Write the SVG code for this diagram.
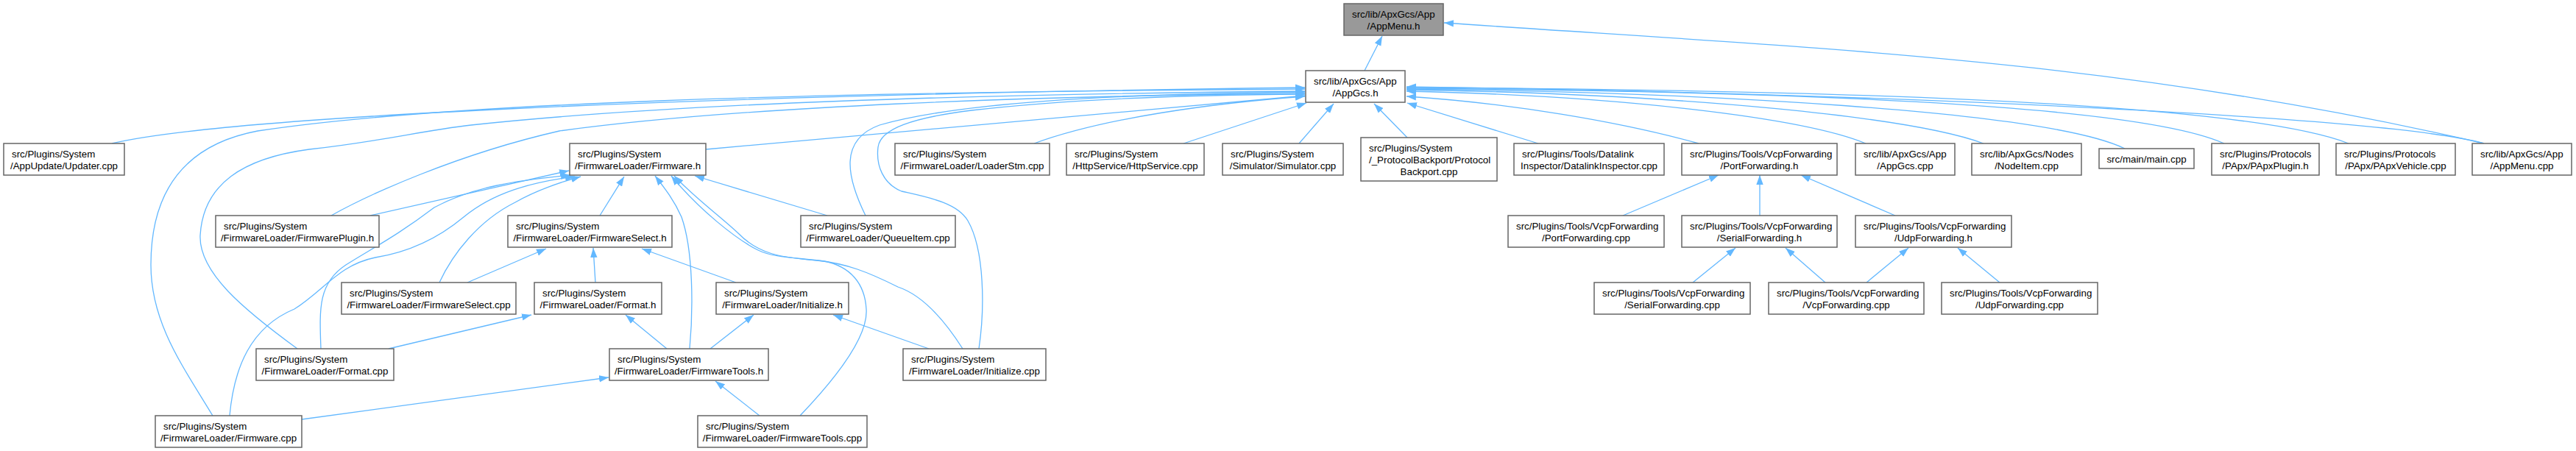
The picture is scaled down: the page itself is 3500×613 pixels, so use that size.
<svg xmlns="http://www.w3.org/2000/svg" width="3500" height="613" viewBox="0 0 3500 613">
<style>
.node rect{fill:#ffffff;stroke:#666666;stroke-width:1.5}
.root rect{fill:#999999}
.node text{font-family:"Liberation Sans",Arial,Helvetica,sans-serif;font-size:13.33px;fill:#000000}
.m{text-anchor:middle}
.edges path{fill:none;stroke:#63b8ff;stroke-width:1.3;marker-end:url(#arr)}
</style>
<defs>
<marker id="arr" markerUnits="userSpaceOnUse" viewBox="0 0 13 10" refX="13" refY="5" markerWidth="13" markerHeight="10" orient="auto">
<path d="M0,0.3 L13,5 L0,9.7 z" fill="#63b8ff"/>
</marker>
</defs>
<rect width="3500" height="613" fill="#ffffff"/>
<g class="edges">
<path d="M1854,96 L1878,49"/>
<path d="M3375,195 C2875,79 2464,66 1962,31"/>
<path d="M152,195 C300,160 900,130 1773,119"/>
<path d="M289,565 C250,500 205,440 205,360 C205,250 260,195 350,178 C600,140 1100,125 1773,121"/>
<path d="M404,474 C330,420 270,370 272,320 C276,250 330,215 420,203 C520,192 570,178 640,170 C900,142 1300,128 1773,124"/>
<path d="M450,293 C500,265 620,210 760,178 C1000,145 1400,130 1773,127"/>
<path d="M959,203 L1773,130"/>
<path d="M1176,293 C1150,240 1140,190 1195,170 C1300,140 1500,128 1773,125"/>
<path d="M1330,474 C1338,420 1338,340 1315,300 C1300,275 1260,268 1225,260 C1200,250 1190,225 1193,200 C1196,175 1240,160 1320,150 C1450,135 1600,129 1773,128"/>
<path d="M1405,195 C1500,160 1650,140 1773,131"/>
<path d="M1608,195 L1775,140"/>
<path d="M1765,195 L1812,141"/>
<path d="M1912,187 L1867,141"/>
<path d="M2090,195 L1912,140"/>
<path d="M2308,195 C2200,165 2050,140 1911,131"/>
<path d="M2535,195 C2450,160 2200,130 1911,124"/>
<path d="M2695,195 C2600,160 2300,128 1911,122"/>
<path d="M2887,202 C2780,150 2300,125 1911,121"/>
<path d="M3022,195 C2900,140 2400,124 1911,120"/>
<path d="M3191,195 C3050,140 2500,122 1911,119"/>
<path d="M3375,195 C3250,160 2600,128 1911,118"/>
<path d="M503,293 L773,232"/>
<path d="M436,474 C434,420 432,385 470,360 C510,335 540,320 590,282 C640,255 700,245 775,238"/>
<path d="M312,565 C318,500 340,445 400,420 C440,395 460,360 510,350 C560,342 600,320 630,295 C670,262 720,248 781,240"/>
<path d="M597,384 C615,345 650,300 700,275 C730,258 760,248 789,240"/>
<path d="M815,293 L848,240"/>
<path d="M1124,293 L944,239"/>
<path d="M937,474 C942,420 942,340 926,295 C915,270 900,252 890,239"/>
<path d="M1308,474 C1280,430 1250,400 1220,390 C1180,370 1150,358 1110,354 C1060,350 1030,345 1003,317 C980,295 945,270 916,239"/>
<path d="M1087,565 C1130,520 1180,460 1177,420 C1175,385 1155,362 1120,355 C1080,350 1050,350 1030,340 C1000,325 950,285 912,239"/>
<path d="M635,384 L742,338"/>
<path d="M809,384 L806,337"/>
<path d="M1000,384 L872,338"/>
<path d="M528,474 L722,428"/>
<path d="M906,474 L850,428"/>
<path d="M965,474 L1024,428"/>
<path d="M1262,474 L1132,428"/>
<path d="M410,570 L827,513"/>
<path d="M1032,565 L972,518"/>
<path d="M2205,293 L2335,238"/>
<path d="M2391,293 L2391,238"/>
<path d="M2575,293 L2447,238"/>
<path d="M2300,384 L2358,337"/>
<path d="M2480,384 L2426,337"/>
<path d="M2536,384 L2593,337"/>
<path d="M2717,384 L2660,337"/>
</g>
<g id="n0" class="node root"><rect x="1826" y="5" width="135" height="43"/><text x="1837" y="23.5">src/lib/ApxGcs/App</text><text class="m" x="1893.5" y="39.5">/AppMenu.h</text></g>
<g id="n1" class="node"><rect x="1774" y="96" width="135" height="43"/><text x="1785" y="114.5">src/lib/ApxGcs/App</text><text class="m" x="1841.5" y="130.5">/AppGcs.h</text></g>
<g id="n2" class="node"><rect x="5" y="195" width="164" height="43"/><text x="16" y="213.5">src/Plugins/System</text><text class="m" x="87" y="229.5">/AppUpdate/Updater.cpp</text></g>
<g id="n3" class="node"><rect x="774" y="195" width="185" height="43"/><text x="785" y="213.5">src/Plugins/System</text><text class="m" x="866.5" y="229.5">/FirmwareLoader/Firmware.h</text></g>
<g id="n4" class="node"><rect x="1216" y="195" width="210" height="43"/><text x="1227" y="213.5">src/Plugins/System</text><text class="m" x="1321" y="229.5">/FirmwareLoader/LoaderStm.cpp</text></g>
<g id="n5" class="node"><rect x="1449" y="195" width="187" height="43"/><text x="1460" y="213.5">src/Plugins/System</text><text class="m" x="1542.5" y="229.5">/HttpService/HttpService.cpp</text></g>
<g id="n6" class="node"><rect x="1661" y="195" width="164" height="43"/><text x="1672" y="213.5">src/Plugins/System</text><text class="m" x="1743" y="229.5">/Simulator/Simulator.cpp</text></g>
<g id="n7" class="node"><rect x="1849" y="187" width="185" height="59"/><text x="1860" y="205.5">src/Plugins/System</text><text x="1860" y="221.5">/_ProtocolBackport/Protocol</text><text class="m" x="1941.5" y="237.5">Backport.cpp</text></g>
<g id="n8" class="node"><rect x="2057" y="195" width="204" height="43"/><text x="2068" y="213.5">src/Plugins/Tools/Datalink</text><text class="m" x="2159" y="229.5">Inspector/DatalinkInspector.cpp</text></g>
<g id="n9" class="node"><rect x="2285" y="195" width="211" height="43"/><text x="2296" y="213.5">src/Plugins/Tools/VcpForwarding</text><text class="m" x="2390.5" y="229.5">/PortForwarding.h</text></g>
<g id="n10" class="node"><rect x="2521" y="195" width="135" height="43"/><text x="2532" y="213.5">src/lib/ApxGcs/App</text><text class="m" x="2588.5" y="229.5">/AppGcs.cpp</text></g>
<g id="n11" class="node"><rect x="2679" y="195" width="149" height="43"/><text x="2690" y="213.5">src/lib/ApxGcs/Nodes</text><text class="m" x="2753.5" y="229.5">/NodeItem.cpp</text></g>
<g id="n12" class="node"><rect x="2852" y="202" width="129" height="27"/><text class="m" x="2916.5" y="220.5">src/main/main.cpp</text></g>
<g id="n13" class="node"><rect x="3005" y="195" width="146" height="43"/><text x="3016" y="213.5">src/Plugins/Protocols</text><text class="m" x="3078" y="229.5">/PApx/PApxPlugin.h</text></g>
<g id="n14" class="node"><rect x="3174" y="195" width="162" height="43"/><text x="3185" y="213.5">src/Plugins/Protocols</text><text class="m" x="3255" y="229.5">/PApx/PApxVehicle.cpp</text></g>
<g id="n15" class="node"><rect x="3359" y="195" width="135" height="43"/><text x="3370" y="213.5">src/lib/ApxGcs/App</text><text class="m" x="3426.5" y="229.5">/AppMenu.cpp</text></g>
<g id="n16" class="node"><rect x="293" y="293" width="222" height="43"/><text x="304" y="311.5">src/Plugins/System</text><text class="m" x="404" y="327.5">/FirmwareLoader/FirmwarePlugin.h</text></g>
<g id="n17" class="node"><rect x="690" y="293" width="223" height="43"/><text x="701" y="311.5">src/Plugins/System</text><text class="m" x="801.5" y="327.5">/FirmwareLoader/FirmwareSelect.h</text></g>
<g id="n18" class="node"><rect x="1088" y="293" width="210" height="43"/><text x="1099" y="311.5">src/Plugins/System</text><text class="m" x="1193" y="327.5">/FirmwareLoader/QueueItem.cpp</text></g>
<g id="n19" class="node"><rect x="2049" y="293" width="212" height="43"/><text x="2060" y="311.5">src/Plugins/Tools/VcpForwarding</text><text class="m" x="2155" y="327.5">/PortForwarding.cpp</text></g>
<g id="n20" class="node"><rect x="2285" y="293" width="211" height="43"/><text x="2296" y="311.5">src/Plugins/Tools/VcpForwarding</text><text class="m" x="2390.5" y="327.5">/SerialForwarding.h</text></g>
<g id="n21" class="node"><rect x="2521" y="293" width="212" height="43"/><text x="2532" y="311.5">src/Plugins/Tools/VcpForwarding</text><text class="m" x="2627" y="327.5">/UdpForwarding.h</text></g>
<g id="n22" class="node"><rect x="464" y="384" width="237" height="43"/><text x="475" y="402.5">src/Plugins/System</text><text class="m" x="582.5" y="418.5">/FirmwareLoader/FirmwareSelect.cpp</text></g>
<g id="n23" class="node"><rect x="726" y="384" width="173" height="43"/><text x="737" y="402.5">src/Plugins/System</text><text class="m" x="812.5" y="418.5">/FirmwareLoader/Format.h</text></g>
<g id="n24" class="node"><rect x="973" y="384" width="180" height="43"/><text x="984" y="402.5">src/Plugins/System</text><text class="m" x="1063" y="418.5">/FirmwareLoader/Initialize.h</text></g>
<g id="n25" class="node"><rect x="2166" y="384" width="212" height="43"/><text x="2177" y="402.5">src/Plugins/Tools/VcpForwarding</text><text class="m" x="2272" y="418.5">/SerialForwarding.cpp</text></g>
<g id="n26" class="node"><rect x="2403" y="384" width="211" height="43"/><text x="2414" y="402.5">src/Plugins/Tools/VcpForwarding</text><text class="m" x="2508.5" y="418.5">/VcpForwarding.cpp</text></g>
<g id="n27" class="node"><rect x="2638" y="384" width="212" height="43"/><text x="2649" y="402.5">src/Plugins/Tools/VcpForwarding</text><text class="m" x="2744" y="418.5">/UdpForwarding.cpp</text></g>
<g id="n28" class="node"><rect x="348" y="474" width="187" height="43"/><text x="359" y="492.5">src/Plugins/System</text><text class="m" x="441.5" y="508.5">/FirmwareLoader/Format.cpp</text></g>
<g id="n29" class="node"><rect x="828" y="474" width="216" height="43"/><text x="839" y="492.5">src/Plugins/System</text><text class="m" x="936" y="508.5">/FirmwareLoader/FirmwareTools.h</text></g>
<g id="n30" class="node"><rect x="1227" y="474" width="194" height="43"/><text x="1238" y="492.5">src/Plugins/System</text><text class="m" x="1324" y="508.5">/FirmwareLoader/Initialize.cpp</text></g>
<g id="n31" class="node"><rect x="211" y="565" width="199" height="43"/><text x="222" y="583.5">src/Plugins/System</text><text class="m" x="310.5" y="599.5">/FirmwareLoader/Firmware.cpp</text></g>
<g id="n32" class="node"><rect x="948" y="565" width="230" height="43"/><text x="959" y="583.5">src/Plugins/System</text><text class="m" x="1063" y="599.5">/FirmwareLoader/FirmwareTools.cpp</text></g>
</svg>
